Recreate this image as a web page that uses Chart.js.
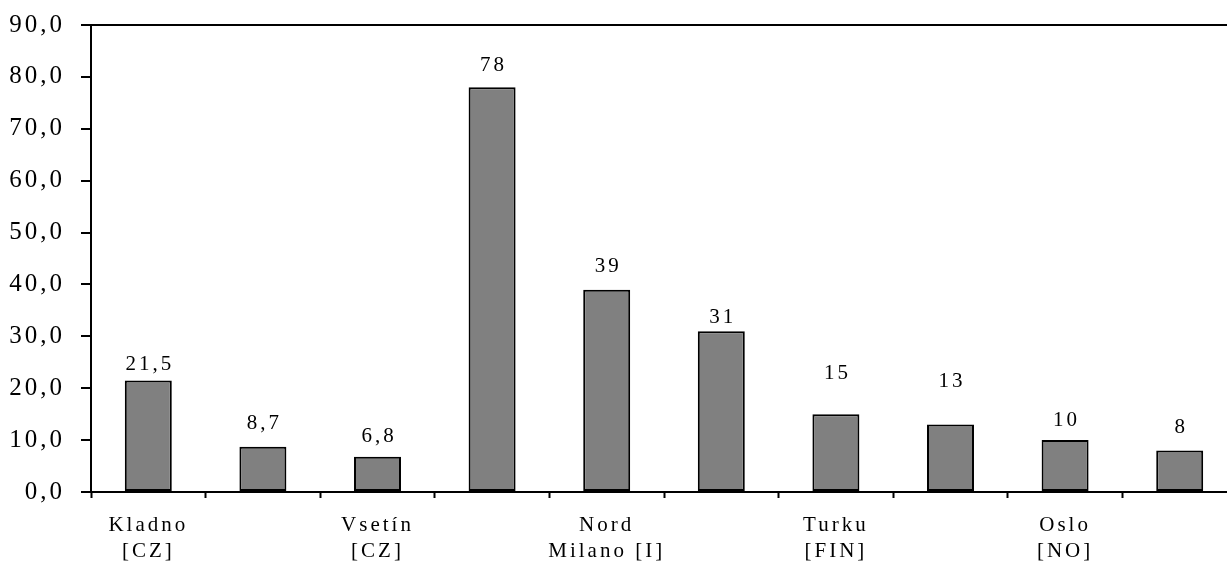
<!DOCTYPE html>
<html>
<head>
<meta charset="utf-8">
<script src="https://cdn.jsdelivr.net/npm/chart.js@4/dist/chart.umd.min.js"></script>
<style>
  html, body { margin: 0; padding: 0; background: #fff; overflow: hidden; }
  #wrap { width: 1240px; height: 561px; }
</style>
</head>
<body>
<div id="wrap"><canvas id="myChart"></canvas></div>
<script>
// city labels (only every other bar is named on the axis)
const cities = [
    ['Kladno', '[CZ]'], '', ['Vsetín', '[CZ]'], '', ['Nord', 'Milano [I]'],
    '', ['Turku', '[FIN]'], '', ['Oslo', '[NO]'], ''
];
const values = [21.5, 8.7, 6.8, 78, 39, 31, 15, 13, 10, 8];
const yTicks = [0, 10, 20, 30, 40, 50, 60, 70, 80, 90];

// distance (px) from bar top to label centre, as placed in the original
const labelGap = [16, 23, 20, 22, 23, 14, 41, 43, 20, 23];

function fmt(v, digits) {
    return v.toFixed(digits).replace('.', ',');
}

const spacing = {
    id: 'spacing',
    beforeLayout(chart) { chart.ctx.letterSpacing = '3px'; },
    beforeDraw(chart) { chart.ctx.letterSpacing = '3px'; }
};

const barLabels = {
    id: 'barLabels',
    afterDatasetsDraw(chart) {
        const ctx = chart.ctx;
        const meta = chart.getDatasetMeta(0);
        ctx.save();
        ctx.letterSpacing = '3px';
        ctx.font = '21px "Liberation Serif", "Times New Roman", serif';
        ctx.fillStyle = '#000';
        ctx.textAlign = 'center';
        ctx.textBaseline = 'middle';
        meta.data.forEach((bar, i) => {
            let v = values[i];
            let txt = Number.isInteger(v) ? String(v) : fmt(v, 1);
            ctx.fillText(txt, bar.x + 1.5, bar.y - labelGap[i]);
        });
        ctx.restore();
    }
};

const ctx = document.getElementById('myChart').getContext('2d');
new Chart(ctx, {
    type: 'bar',
    data: {
        labels: cities,
        datasets: [{
            data: values,
            backgroundColor: '#808080',
            borderColor: '#000',
            borderWidth: 2,
            borderSkipped: false,
            categoryPercentage: 1,
            barPercentage: 0.41
        }]
    },
    options: {
        responsive: true,
        maintainAspectRatio: false,
        animation: false,
        layout: { padding: { top: 25, right: 3, left: 0, bottom: 0 } },
        plugins: { legend: { display: false }, tooltip: { enabled: false } },
        scales: {
            x: {
                offset: true,
                grid: {
                    offset: true,
                    color: 'rgba(0,0,0,0)',
                    tickColor: '#000',
                    tickLength: 6,
                    tickWidth: 2
                },
                border: { color: '#000', width: 2 },
                ticks: {
                    autoSkip: false,
                    maxRotation: 0,
                    color: '#000',
                    padding: 14,
                    font: { family: '"Liberation Serif", "Times New Roman", serif', size: 21, lineHeight: 1.25 }
                },
                afterFit(scale) { scale.height = 69; }
            },
            y: {
                min: 0,
                max: 90,
                afterBuildTicks(scale) { scale.ticks = yTicks.map(v => ({ value: v })); },
                grid: {
                    color: c => (c.tick && c.tick.value === 90 ? '#000' : 'rgba(0,0,0,0)'),
                    lineWidth: 2,
                    tickColor: '#000',
                    tickLength: 10,
                    tickWidth: 2
                },
                border: { color: '#000', width: 2 },
                ticks: {
                    color: '#000',
                    padding: 16,
                    font: { family: '"Liberation Serif", "Times New Roman", serif', size: 25 },
                    callback: v => fmt(v, 1)
                },
                afterFit(scale) {
                    scale.width = 91;
                    scale.paddingTop = 0;
                    scale.paddingBottom = 0;
                }
            }
        }
    },
    plugins: [spacing, barLabels]
});
</script>
</body>
</html>
